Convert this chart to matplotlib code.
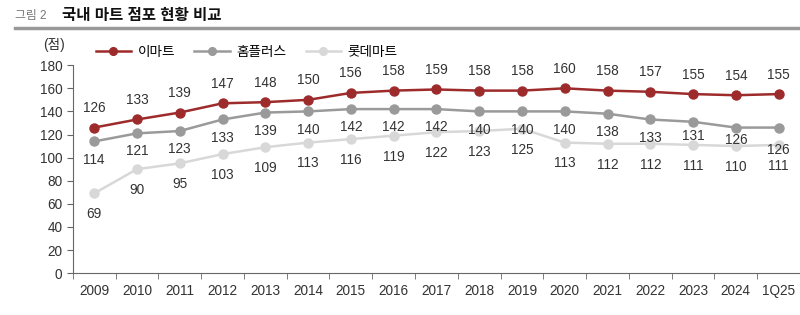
import numpy as np
import matplotlib
matplotlib.use('Agg')
import matplotlib.pyplot as plt

plt.rcParams['font.family'] = ['Liberation Sans', 'Noto Sans CJK KR', 'DejaVu Sans']

years = ['2009', '2010', '2011', '2012', '2013', '2014', '2015', '2016', '2017',
         '2018', '2019', '2020', '2021', '2022', '2023', '2024', '1Q25']
emart = [126, 133, 139, 147, 148, 150, 156, 158, 159, 158, 158, 160, 158, 157, 155, 154, 155]
homeplus = [114, 121, 123, 133, 139, 140, 142, 142, 142, 140, 140, 140, 138, 133, 131, 126, 126]
lotte = [69, 90, 95, 103, 109, 113, 116, 119, 122, 123, 125, 113, 112, 112, 111, 110, 111]
names = ['이마트', '홈플러스', '롯데마트']
colors = ['#9e2b2b', '#9a9a9a', '#d8d8d8']

fig = plt.figure(figsize=(8, 3.15), dpi=100)
ax = fig.add_axes([0.091, 0.133, 0.909, 0.66])

x = np.arange(len(years))
for vals, name, c in zip([emart, homeplus, lotte], names, colors):
    ax.plot(x, vals, color=c, lw=1.8, marker='o', ms=6.5, label=name)

fs = 9.8
# labels: emart above, homeplus / lotte below
for i, v in enumerate(emart):
    ax.annotate(str(v), (i, v), xytext=(0, 9), textcoords='offset points',
                ha='center', va='bottom', fontsize=fs, color='#333333')
hp_off = [-8] * len(homeplus)
hp_off[14] = -5
hp_off[15] = -4
hp_off[16] = -11
for i, v in enumerate(homeplus):
    ax.annotate(str(v), (i, v), xytext=(0, hp_off[i]), textcoords='offset points',
                ha='center', va='top', fontsize=fs, color='#333333')
for i, v in enumerate(lotte):
    ax.annotate(str(v), (i, v), xytext=(0, -10), textcoords='offset points',
                ha='center', va='top', fontsize=fs, color='#333333')

ax.set_xlim(-0.5, len(years) - 0.5)
ax.set_ylim(0, 180)
ax.set_yticks(range(0, 181, 20))
ax.set_xticks(x)
ax.set_xticklabels(years)
ax.set_xticks(np.arange(len(years) + 1) - 0.5, minor=True)
ax.tick_params(axis='x', which='major', length=0, pad=8, labelsize=fs, colors='#333333')
ax.tick_params(axis='x', which='minor', length=4, color='#666666')
ax.tick_params(axis='y', length=4, color='#666666', labelsize=fs, labelcolor='#333333')
for s in ['top', 'right']:
    ax.spines[s].set_visible(False)
for s in ['left', 'bottom']:
    ax.spines[s].set_color('#666666')
    ax.spines[s].set_linewidth(0.8)

ax.legend(loc='lower left', bbox_to_anchor=(0.02, 0.99), ncol=3, frameon=False,
          fontsize=fs, handlelength=2.6, handletextpad=0.5, columnspacing=1.4,
          borderaxespad=0.2, markerscale=0.85)

fig.text(0.068, 0.845, '(점)', ha='center', fontsize=fs, color='#333333')
fig.text(0.019, 0.95, '그림 2', fontsize=8.5, color='#777777', va='center')
fig.text(0.077, 0.95, '국내 마트 점포 현황 비교', fontsize=11.2, fontweight='bold',
         color='#111111', va='center')
fig.add_artist(plt.Line2D([0.019, 1.0], [0.91, 0.91], color='#999999', lw=2.5))

fig.savefig('out.png', dpi=100)
